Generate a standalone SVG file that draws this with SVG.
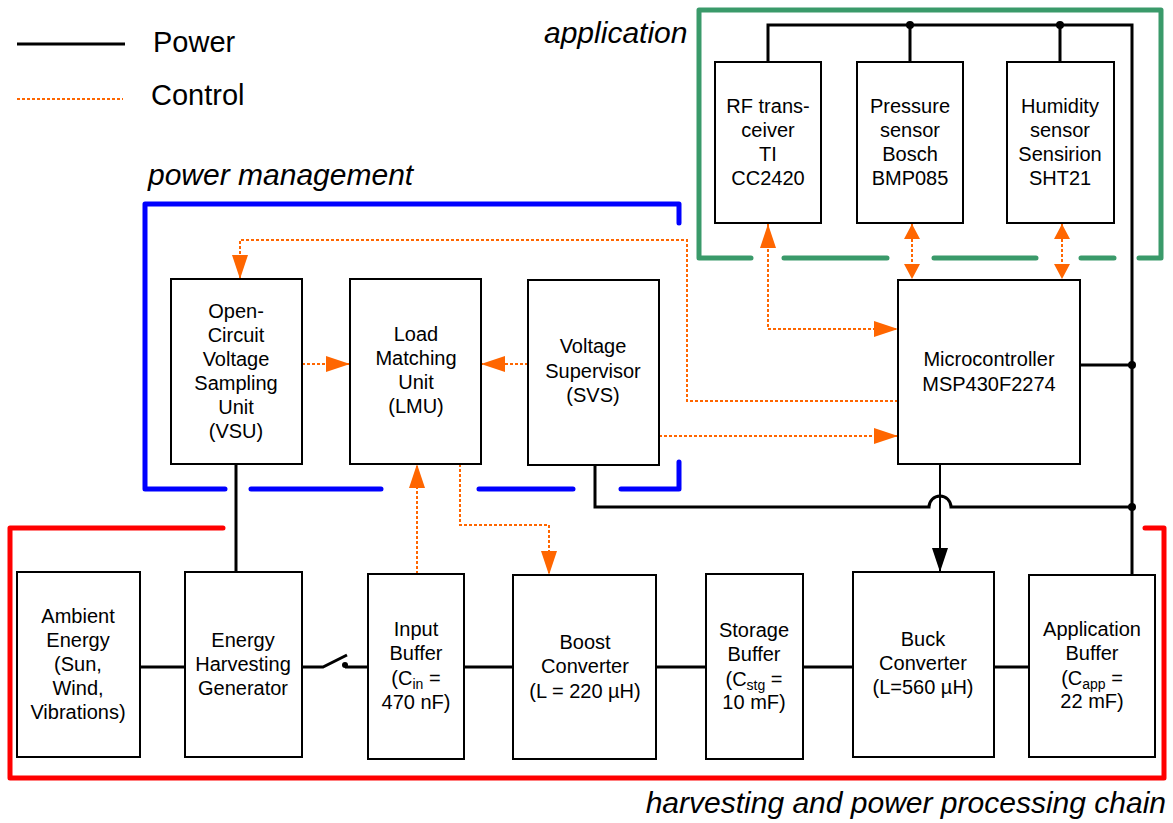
<svg xmlns="http://www.w3.org/2000/svg" width="1173" height="823" viewBox="0 0 1173 823">
<style>
  .box { fill: #fff; stroke: #000; stroke-width: 2; }
  .lbl { font-family: "Liberation Sans", Arial, sans-serif; font-size: 20px; fill: #000; text-anchor: middle; }
  .big { font-family: "Liberation Sans", Arial, sans-serif; font-size: 29px; fill: #000; }
  .it { font-style: italic; font-size: 30px; }
  .pw { fill: none; stroke: #000; stroke-width: 3; }
  .ct { fill: none; stroke: #FF6600; stroke-width: 2; stroke-dasharray: 3 2; }
  .fr { fill: none; stroke-width: 5; stroke-linecap: round; stroke-linejoin: round; }
  .green { stroke: #3A9A6A; }
  .blue { stroke: #0000FF; }
  .red { stroke: #FF0000; }
  .sub { font-size: 14px; }
</style>
<defs>
  <marker id="arrO" viewBox="0 0 24 16" refX="24" refY="8" markerWidth="24" markerHeight="16" markerUnits="userSpaceOnUse" orient="auto-start-reverse">
    <path d="M0,0 L24,8 L0,16 z" fill="#FF6600"/>
  </marker>
  <marker id="arrOs" viewBox="0 0 15 16" refX="15" refY="8" markerWidth="15" markerHeight="16" markerUnits="userSpaceOnUse" orient="auto-start-reverse">
    <path d="M0,0 L15,8 L0,16 z" fill="#FF6600"/>
  </marker>
  <marker id="arrK" viewBox="0 0 24 16" refX="24" refY="8" markerWidth="24" markerHeight="16" markerUnits="userSpaceOnUse" orient="auto">
    <path d="M0,0 L24,8 L0,16 z" fill="#000"/>
  </marker>
</defs>

<g id="legend">
  <line x1="17" y1="44" x2="125" y2="44" stroke="#000" stroke-width="3"/>
  <text class="big" x="153" y="52">Power</text>
  <line x1="17" y1="99" x2="123" y2="99" class="ct"/>
  <text class="big" x="151" y="105">Control</text>
</g>

<g id="frames">
  <!-- application -->
  <path class="fr green" d="M751,258 H699 V10 H1161 V258 H1139"/>
  <path class="fr green" d="M784,258 H887 M934,258 H1036 M1081,258 H1114"/>
  <text class="big it" x="544" y="43">application</text>
  <!-- power management -->
  <path class="fr blue" d="M679,223 V204 H145 V489 H225"/>
  <path class="fr blue" d="M251,489 H381 M479,489 H573"/>
  <path class="fr blue" d="M621,489 H679 V462"/>
  <text class="big it" x="148" y="185">power management</text>
  <!-- harvesting chain -->
  <path class="fr red" d="M223,528 H10 V778 H1164 V528 H1145"/>
  <text class="big it" x="1166" y="813" text-anchor="end">harvesting and power processing chain</text>
</g>

<g id="connectors">
  <!-- power -->
  <path class="pw" d="M768,62 V25 H1132 V575"/>
  <path class="pw" d="M910,25 V62 M1060,25 V62"/>
  <circle cx="910" cy="25" r="4" fill="#000"/>
  <circle cx="1060" cy="25" r="4" fill="#000"/>
  <path class="pw" d="M1080,365 H1132"/>
  <circle cx="1132" cy="365" r="4" fill="#000"/>
  <path class="pw" d="M595,465 V507 H929 A11,11 0 0 1 951,507 H1132"/>
  <circle cx="1132" cy="507" r="4" fill="#000"/>
  <path d="M940,464 V572" fill="none" stroke="#000" stroke-width="2" marker-end="url(#arrK)"/>
  <path class="pw" d="M236,464 V572"/>
  <path class="pw" d="M140,667 H185 M302,667 H323 L347,655 M345,667 H368 M464,667 H513 M656,667 H706 M803,667 H853 M994,667 H1029"/>
  <circle cx="345" cy="665" r="3" fill="#000"/>
  <!-- control -->
  <path class="ct" d="M898,401 H687 V240 H240 V279" marker-end="url(#arrO)"/>
  <path class="ct" d="M302,364 H350" marker-end="url(#arrO)"/>
  <path class="ct" d="M528,364 H481" marker-end="url(#arrO)"/>
  <path class="ct" d="M659,436 H898" marker-end="url(#arrO)"/>
  <path class="ct" d="M768,224 V329 H898" marker-start="url(#arrO)" marker-end="url(#arrO)"/>
  <path class="ct" d="M912,224 V279" marker-start="url(#arrOs)" marker-end="url(#arrOs)"/>
  <path class="ct" d="M1062,224 V279" marker-start="url(#arrOs)" marker-end="url(#arrOs)"/>
  <path class="ct" d="M417,574 V464" marker-end="url(#arrO)"/>
  <path class="ct" d="M460,464 V525 H549 V575" marker-end="url(#arrO)"/>
</g>

<g id="rf">
  <rect class="box" x="715" y="62" width="106" height="161"/>
  <text class="lbl"><tspan x="768" y="113">RF trans-</tspan><tspan x="768" y="137">ceiver</tspan><tspan x="768" y="161">TI</tspan><tspan x="768" y="185">CC2420</tspan></text>
</g>
<g id="pressure">
  <rect class="box" x="857" y="62" width="106" height="161"/>
  <text class="lbl"><tspan x="910" y="113">Pressure</tspan><tspan x="910" y="137">sensor</tspan><tspan x="910" y="161">Bosch</tspan><tspan x="910" y="185">BMP085</tspan></text>
</g>
<g id="humidity">
  <rect class="box" x="1007" y="62" width="107" height="161"/>
  <text class="lbl"><tspan x="1060" y="113">Humidity</tspan><tspan x="1060" y="137">sensor</tspan><tspan x="1060" y="161">Sensirion</tspan><tspan x="1060" y="185">SHT21</tspan></text>
</g>
<g id="vsu">
  <rect class="box" x="171" y="279" width="131" height="185"/>
  <text class="lbl"><tspan x="236" y="318">Open-</tspan><tspan x="236" y="342">Circuit</tspan><tspan x="236" y="366">Voltage</tspan><tspan x="236" y="390">Sampling</tspan><tspan x="236" y="414">Unit</tspan><tspan x="236" y="438">(VSU)</tspan></text>
</g>
<g id="lmu">
  <rect class="box" x="350" y="279" width="131" height="185"/>
  <text class="lbl"><tspan x="416" y="341">Load</tspan><tspan x="416" y="365">Matching</tspan><tspan x="416" y="389">Unit</tspan><tspan x="416" y="413">(LMU)</tspan></text>
</g>
<g id="svs">
  <rect class="box" x="528" y="280" width="131" height="185"/>
  <text class="lbl"><tspan x="593" y="353">Voltage</tspan><tspan x="593" y="378">Supervisor</tspan><tspan x="593" y="402">(SVS)</tspan></text>
</g>
<g id="mcu">
  <rect class="box" x="898" y="280" width="182" height="184"/>
  <text class="lbl"><tspan x="989" y="366">Microcontroller</tspan><tspan x="989" y="391">MSP430F2274</tspan></text>
</g>
<g id="ambient">
  <rect class="box" x="17" y="572" width="123" height="185"/>
  <text class="lbl"><tspan x="78" y="623">Ambient</tspan><tspan x="78" y="647">Energy</tspan><tspan x="78" y="671">(Sun,</tspan><tspan x="78" y="695">Wind,</tspan><tspan x="78" y="719">Vibrations)</tspan></text>
</g>
<g id="ehg">
  <rect class="box" x="185" y="572" width="117" height="185"/>
  <text class="lbl"><tspan x="243" y="647">Energy</tspan><tspan x="243" y="671">Harvesting</tspan><tspan x="243" y="695">Generator</tspan></text>
</g>
<g id="input">
  <rect class="box" x="368" y="574" width="96" height="185"/>
  <text class="lbl" x="416" y="636">Input</text>
  <text class="lbl" x="416" y="660">Buffer</text>
  <text class="lbl" x="416" y="685">(C<tspan class="sub" dy="4">in</tspan><tspan dy="-4"> =</tspan></text>
  <text class="lbl" x="416" y="709">470 nF)</text>
</g>
<g id="boost">
  <rect class="box" x="513" y="575" width="143" height="184"/>
  <text class="lbl"><tspan x="585" y="649">Boost</tspan><tspan x="585" y="673">Converter</tspan><tspan x="585" y="698">(L = 220 µH)</tspan></text>
</g>
<g id="storage">
  <rect class="box" x="706" y="574" width="97" height="185"/>
  <text class="lbl" x="754" y="637">Storage</text>
  <text class="lbl" x="754" y="661">Buffer</text>
  <text class="lbl" x="754" y="686">(C<tspan class="sub" dy="4">stg</tspan><tspan dy="-4"> =</tspan></text>
  <text class="lbl" x="754" y="709">10 mF)</text>
</g>
<g id="buck">
  <rect class="box" x="853" y="572" width="141" height="185"/>
  <text class="lbl"><tspan x="923" y="646">Buck</tspan><tspan x="923" y="670">Converter</tspan><tspan x="923" y="694">(L=560 µH)</tspan></text>
</g>
<g id="appbuffer">
  <rect class="box" x="1029" y="575" width="126" height="182"/>
  <text class="lbl" x="1092" y="636">Application</text>
  <text class="lbl" x="1092" y="660">Buffer</text>
  <text class="lbl" x="1092" y="685">(C<tspan class="sub" dy="4">app</tspan><tspan dy="-4"> =</tspan></text>
  <text class="lbl" x="1092" y="708">22 mF)</text>
</g>
</svg>
